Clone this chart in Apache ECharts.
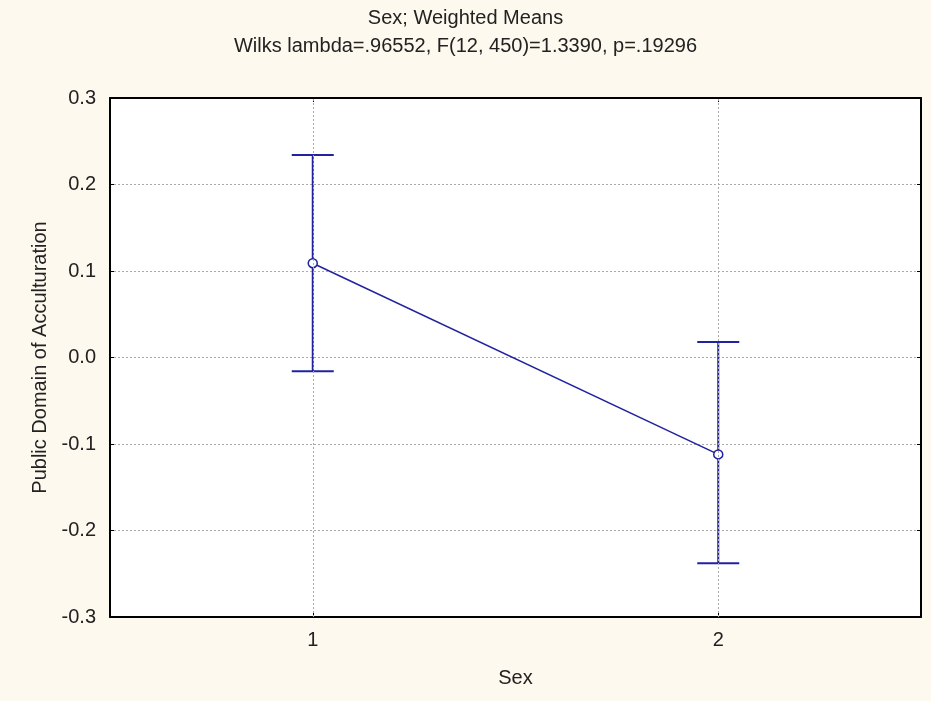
<!DOCTYPE html>
<html>
<head>
<meta charset="utf-8">
<script src="https://cdn.jsdelivr.net/npm/echarts@6/dist/echarts.min.js"></script>
<style>
html,body{margin:0;padding:0;background:#FDF9EE;}
#chart{width:931px;height:701px;}
</style>
</head>
<body>
<div id="chart"></div>
<script>
const categories = ['1', '2'];
const means = [0.109, -0.112];
const upper = [0.234, 0.018];
const lower = [-0.016, -0.238];
const yTicks = [-0.3, 0.3, 0.1];

const blue = '#2222A0';
const txt = '#222222';
const chart = echarts.init(document.getElementById('chart'));
const font = 'Arial, "Liberation Sans", sans-serif';
const fs = 20;

const errData = categories.map((c, i) => [i, lower[i], upper[i]]);

chart.setOption({
  backgroundColor: '#FDF9EE',
  animation: false,
  title: [
    {text: 'Sex; Weighted Means', left: 'center', top: 3,
     textStyle: {fontSize: fs, fontWeight: 'normal', color: txt, fontFamily: font}},
    {text: 'Wilks lambda=.96552, F(12, 450)=1.3390, p=.19296', left: 'center', top: 31,
     textStyle: {fontSize: fs, fontWeight: 'normal', color: txt, fontFamily: font}}
  ],
  grid: {left: 110, right: 10, top: 98, bottom: 84, backgroundColor: '#FFFFFF', show: true, borderWidth: 0},
  xAxis: [
    {type: 'category', data: categories, position: 'bottom',
     name: 'Sex', nameLocation: 'middle', nameGap: 51,
     nameTextStyle: {fontSize: fs, color: txt, fontFamily: font},
     axisLine: {onZero: false, lineStyle: {color: '#000', width: 2}},
     axisTick: {show: true, alignWithLabel: true, inside: true, length: 4, lineStyle: {color: '#000', width: 1}},
     axisLabel: {fontSize: fs, color: txt, margin: 13, fontFamily: font},
     splitLine: {show: false}},
    {type: 'category', data: categories, position: 'top',
     axisLine: {onZero: false, lineStyle: {color: '#000', width: 2}},
     axisTick: {show: true, alignWithLabel: true, inside: true, length: 4, lineStyle: {color: '#000', width: 1}},
     axisLabel: {show: false}, splitLine: {show: false}}
  ],
  yAxis: [
    {type: 'value', min: yTicks[0], max: yTicks[1], interval: yTicks[2], position: 'left',
     name: 'Public Domain of Acculturation', nameLocation: 'middle', nameGap: 60, nameRotate: 90,
     nameTextStyle: {fontSize: fs, color: txt, fontFamily: font},
     axisLine: {show: true, onZero: false, lineStyle: {color: '#000', width: 2}},
     axisTick: {show: true, inside: true, length: 4, lineStyle: {color: '#000', width: 1}},
     axisLabel: {fontSize: fs, color: txt, margin: 14, fontFamily: font,
                 formatter: v => (Math.abs(v) < 1e-9 ? 0 : v).toFixed(1)},
     splitLine: {show: true, lineStyle: {color: '#AAAAAA', type: [2, 2], width: 1}}},
    {type: 'value', min: yTicks[0], max: yTicks[1], interval: yTicks[2], position: 'right',
     axisLine: {show: true, onZero: false, lineStyle: {color: '#000', width: 2}},
     axisTick: {show: true, inside: true, length: 4, lineStyle: {color: '#000', width: 1}},
     axisLabel: {show: false}, splitLine: {show: false}}
  ],
  series: [
    {type: 'line', data: categories.map(() => null), silent: true,
     markLine: {symbol: 'none', silent: true, label: {show: false},
       lineStyle: {color: '#AAAAAA', type: [2, 2], width: 1},
       data: categories.map(c => ({xAxis: c}))}, z: 1},
    {type: 'custom', data: errData, z: 3,
     renderItem: function (params, api) {
       const x = api.value(0);
       const lo = api.coord([x, api.value(1)]);
       const hi = api.coord([x, api.value(2)]);
       const hw = 21;
       const style = {stroke: blue, lineWidth: 2, fill: null};
       return {type: 'group', children: [
         {type: 'line', shape: {x1: lo[0], y1: lo[1], x2: hi[0], y2: hi[1]}, style: style},
         {type: 'line', shape: {x1: lo[0] - hw, y1: lo[1], x2: lo[0] + hw, y2: lo[1]}, style: style},
         {type: 'line', shape: {x1: hi[0] - hw, y1: hi[1], x2: hi[0] + hw, y2: hi[1]}, style: style}
       ]};
     }},
    {type: 'line', data: means, z: 4,
     symbol: 'circle', symbolSize: 9,
     itemStyle: {color: '#FFFFFF', borderColor: blue, borderWidth: 1.5},
     lineStyle: {color: blue, width: 1.5}}
  ]
});
</script>
</body>
</html>
